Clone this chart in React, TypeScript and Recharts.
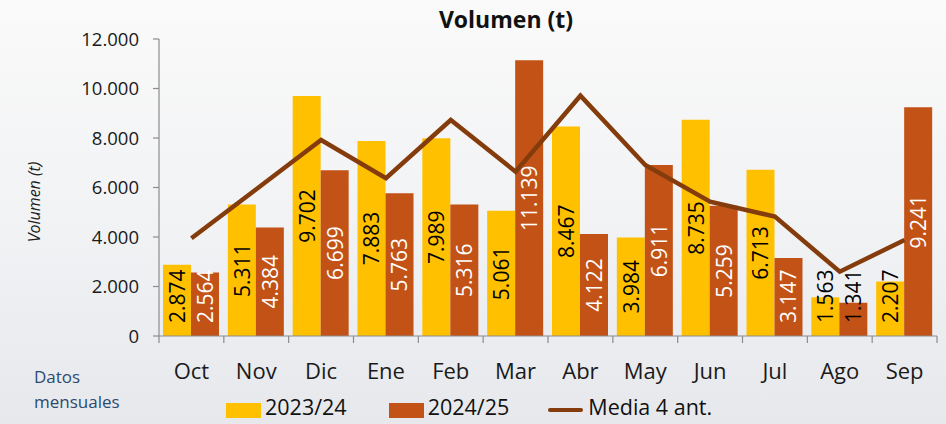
import React from 'react';
import { ComposedChart, Bar, Line, XAxis, YAxis, LabelList } from 'recharts';

const categories = ['Oct', 'Nov', 'Dic', 'Ene', 'Feb', 'Mar', 'Abr', 'May', 'Jun', 'Jul', 'Ago', 'Sep'];
const vol2324 = [2874, 5311, 9702, 7883, 7989, 5061, 8467, 3984, 8735, 6713, 1563, 2207];
const vol2425 = [2564, 4384, 6699, 5763, 5316, 11139, 4122, 6911, 5259, 3147, 1341, 9241];
const media4 = [3947, 5930, 7919, 6372, 8727, 6640, 9710, 6909, 5427, 4822, 2599, 3879];
const yTicks = [0, 2000, 4000, 6000, 8000, 10000, 12000];

const seriesNames = ['2023/24', '2024/25', 'Media 4 ant.'];
const COLORS = { a: '#FFC000', b: '#C25216', line: '#843C0C' };
const FONT = '"Open Sans", sans-serif';

const data = categories.map((c, i) => ({ cat: c, a: vol2324[i], b: vol2425[i], m: media4[i] }));

const fmt = (n: number) => String(Math.round(n)).replace(/\B(?=(\d{3})+(?!\d))/g, '.');

const LABEL_FS = 21;
const textLen = (s: string) => {
  let w = 0;
  for (const ch of s) w += ch === '.' ? 0.27 : 0.572;
  return w * LABEL_FS;
};

const makeLabel = (insideColor: string, outsideColor: string) => (props: any) => {
  const { x, y, width, height, value } = props;
  const s = fmt(value);
  const len = textLen(s);
  const base = y + height;
  const cx = x + width / 2;
  const cy = Math.min(y + height / 2, base - 13 - len / 2);
  const fits = len + 6 < height;
  return (
    <text
      x={cx}
      y={cy}
      transform={`rotate(-90 ${cx} ${cy})`}
      textAnchor="middle"
      dominantBaseline="central"
      fontSize={LABEL_FS}
      fontFamily={FONT}
      fill={fits ? insideColor : outsideColor}
    >
      {s}
    </text>
  );
};

const MonthTick = (props: any) => {
  const { x, y, payload, index, visibleTicksCount } = props;
  const off = payload && payload.offset ? payload.offset : 778 / 24;
  const isLast = index === (visibleTicksCount ? visibleTicksCount - 1 : categories.length - 1);
  return (
    <g>
      <line x1={x - off} x2={x - off} y1={y} y2={y + 7} stroke="#8c8c8c" strokeWidth={1.2} />
      {isLast && <line x1={x + off} x2={x + off} y1={y} y2={y + 7} stroke="#8c8c8c" strokeWidth={1.2} />}
      <text x={x} y={y + 34} textAnchor="middle" dominantBaseline="central" fontSize={22} fontFamily={FONT} fill="#1a1a1a">
        {payload.value}
      </text>
    </g>
  );
};

const YLabel = (props: any) => {
  const vb = props.viewBox || { x: 0, y: 39, width: 159, height: 297 };
  const cx = vb.x + 34;
  const cy = 202;
  return (
    <text x={cx} y={cy} transform={`rotate(-90 ${cx} ${cy})`} textAnchor="middle" dominantBaseline="central"
      fontSize={16} fontStyle="italic" fontFamily={FONT} fill="#1a1a1a">
      Volumen (t)
    </text>
  );
};

const swatch = (w: number, h: number, bg: string, extra: any = {}) => (
  <span style={{ display: 'inline-block', width: w, height: h, background: bg, position: 'relative', top: 3, ...extra }} />
);

export default function App() {
  return (
    <div style={{ position: 'absolute', left: 0, top: 0, width: 946, height: 424, overflow: 'hidden',
      background: 'linear-gradient(180deg, #FAFAFA 0%, #F1F2F4 55%, #E7E8EC 100%)', fontFamily: FONT }}>
      <div style={{ position: 'absolute', left: 0, width: 1012, top: 3, textAlign: 'center', fontSize: 23, fontWeight: 700, color: '#111' }}>
        Volumen (t)
      </div>
      <ComposedChart width={946} height={424} data={data} margin={{ top: 39, right: 9, bottom: 0, left: 0 }}
        barCategoryGap={4} barGap={0} style={{ position: 'absolute', left: 0, top: 0 }}>
        <XAxis dataKey="cat" height={88} axisLine={{ stroke: '#8c8c8c', strokeWidth: 1.2 }} tickLine={false}
          tickSize={0} tickMargin={0} tick={<MonthTick />} interval={0} />
        <YAxis width={159} domain={[0, 12000]} ticks={yTicks} interval={0} tickFormatter={fmt}
          axisLine={{ stroke: '#8c8c8c', strokeWidth: 1.2 }} tickLine={{ stroke: '#8c8c8c', strokeWidth: 1.2 }}
          tickSize={6} tickMargin={14} tick={{ fill: '#1a1a1a', fontSize: 18.5, fontFamily: FONT }}
          label={<YLabel />} />
        <Bar dataKey="a" name={seriesNames[0]} fill={COLORS.a} isAnimationActive={false}>
          <LabelList dataKey="a" content={makeLabel('#000', '#000')} />
        </Bar>
        <Bar dataKey="b" name={seriesNames[1]} fill={COLORS.b} isAnimationActive={false}>
          <LabelList dataKey="b" content={makeLabel('#fff', '#000')} />
        </Bar>
        <Line dataKey="m" name={seriesNames[2]} type="linear" stroke={COLORS.line} strokeWidth={4.5} dot={false}
          activeDot={false} isAnimationActive={false} />
      </ComposedChart>
      <div style={{ position: 'absolute', left: 34, top: 364, color: '#2B4A72', fontSize: 17, lineHeight: '25px' }}>
        Datos<br />mensuales
      </div>
      <div style={{ position: 'absolute', left: 226, top: 394, height: 26, display: 'flex', alignItems: 'center', fontSize: 21.5, lineHeight: '26px', color: '#111', whiteSpace: 'nowrap' }}>
        {swatch(35, 15, COLORS.a, { marginRight: 4 })}
        <span style={{ marginRight: 42 }}>{seriesNames[0]}</span>
        {swatch(35, 15, COLORS.b, { marginRight: 4 })}
        <span style={{ marginRight: 39 }}>{seriesNames[1]}</span>
        {swatch(35, 4, COLORS.line, { marginRight: 5, borderRadius: 2 })}
        <span>{seriesNames[2]}</span>
      </div>
    </div>
  );
}
